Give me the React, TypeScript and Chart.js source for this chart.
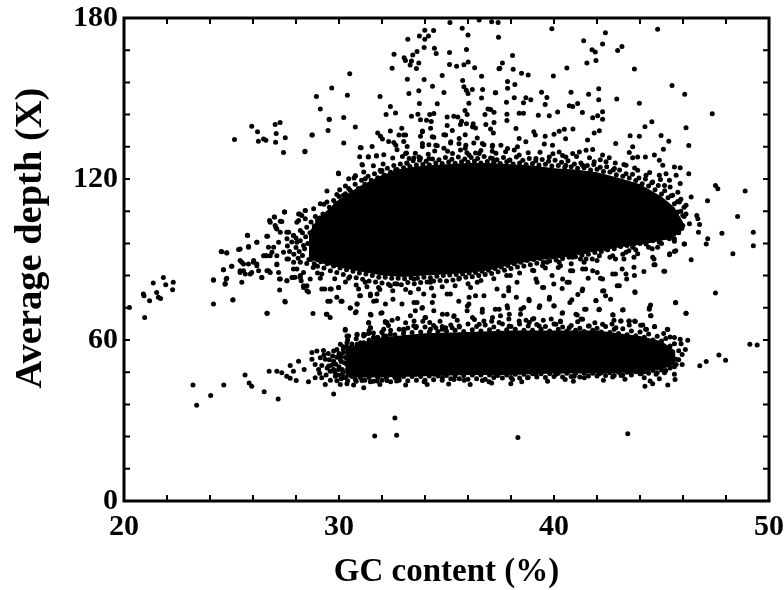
import React, { useEffect, useRef } from "react";
import { Chart, registerables } from "chart.js";

Chart.register(...registerables);

type P = [number, number];

const xTickValues = [20, 30, 40, 50];
const yTickValues = [0, 60, 120, 180];
const xTitle = "GC content (%)";
const yTitle = "Average depth (X)";

// Solid, saturated part of the two point clouds: upper and lower edge
const mainCoreGc = [28.6, 29, 30, 31, 32, 33, 34, 35, 36, 37, 38, 39, 40, 41, 42, 43, 44, 45, 45.6, 46];
const mainCoreTop = [100, 105, 112.5, 117.5, 121.5, 124, 125, 125.5, 126, 126, 125.5, 125, 124, 123.5, 122.5, 120.5, 118, 113.5, 109.5, 104];
const mainCoreBottom = [90.5, 89, 87, 85.5, 84, 83.5, 84, 84.5, 85, 86, 88, 89.5, 90.5, 91.7, 93.2, 94.5, 95.5, 97, 98.5, 101];
const lowCoreGc = [30.3, 31, 32, 34, 36, 38, 40, 42, 44, 45, 45.65];
const lowCoreTop = [56.5, 59, 61, 62.5, 63, 63.5, 63.5, 63.5, 61.5, 59.5, 56];
const lowCoreBottom = [46, 46, 46, 46.5, 47, 47, 47.5, 47.5, 48, 49, 51];

const topCloud: P[] = [
  [35.16,178.3],[35.73,176.2],[36,173.7],[36.52,179.3],[37.1,178.6],[37.4,178.3],[37.42,172.8],[33.99,175.4],[34.4,175.3],[33.74,173.3],[34.16,173.3],[33.99,172.1],[33.2,172.1],[33.96,169],[34.44,168.7],[34.52,166.8],[35.14,167.1],[35.93,168.3],[33.63,167.5],[33.43,166.2],[32.56,166.5],[33.03,165.2],[33.09,164.2],[33.37,164],[33.71,163.2],[33.31,162.5],[33.6,161.2],[32.47,161.3],[35.14,162.7],[35.47,162],[35.81,162.6],[36.01,163.6],[36.31,161.5],[37.44,161.1],[30.5,159.2],[34.8,158.6],[33.96,157.1],[33.18,157.2],[35.75,156.7],[36.63,158.3],[29.66,153.9],[34.35,154.6],[33.71,152.9],[33.25,151.9],[34.88,152.2],[35.81,154.4],[35.92,153.1],[36.2,153.4],[36.68,153.4],[37.27,152.1],[36,151.9],[36.63,150.2],[28.95,150.7],[30.39,151.2],[31.91,150.7],[33.74,148.1],[34.57,148],[36.04,148.2],[32.39,147],[29.13,146.1],[36.93,146.1],[37.05,145.9],[35.86,145.5],[32.63,144.6],[32.19,144],[33.67,144.1],[33.37,143.4],[34.41,144.4],[34.22,144],[35.03,143.1],[35.34,143.4],[35.53,143.1],[35.96,144],[36.79,144],[37.21,144.9],[29.54,142.3],[30.22,142.9],[33.79,142.1],[34.07,141.9],[34.29,141.4],[35.7,141.5],[35.93,140.6],[36.24,140.6],[35.03,139.9],[35.65,140.3],[36.83,140.3],[37.21,141.1],[30.76,139.4],[29.49,138.1],[32.92,138.9],[34.26,138.9],[32.39,137.9],[33.88,137.9],[35.27,138.1],[36.35,139],[37.05,138.6],[28.76,136.4],[31.8,137.1],[31.93,135.9],[32.02,134.9],[33.01,136.4],[33.79,135.9],[34.41,135.6],[34.88,136.5],[35.87,136.5],[36.43,135.3],[37.18,137.1],[32.31,134],[32.55,133.6],[33.01,134],[30.22,133.4],[35.19,133.4],[35.58,133.1],[36.27,133.4],[36.74,132.8],[31.54,132.1],[31.03,131.6],[33.17,132.1],[33.88,132.1],[34.18,132.8],[34.57,132.4],[34.88,131.5],[37.13,132.1],[28.42,130.3],[32.7,130.9],[35.87,131.5],[30.96,128.3],[31.37,128.3],[31.74,128.7],[32.08,129],[33.14,129.7],[36.35,129.7],[37.13,130.3],[33.48,127.8],[33.79,127.8],[31.09,125.2],[33.17,125.9],[32,123.2],[29.97,122.2],[32.63,123.4],[32.86,122.8],[30.76,121.2],
  [39.9,176],[44.82,175.8],[42.39,174.5],[41.38,171.5],[42.26,170.3],[43.16,169.4],[42.96,167.9],[41.77,168.2],[41.92,167.3],[41.95,164.2],[41.53,163.2],[43.74,161],[40.6,161.4],[39.97,158.4],[45.49,154.8],[46.08,151.6],[47.36,144.3],[46.14,139.1],[46.27,132.5],[44.55,141.3],[44.23,139.5],[43.97,148.2],[42.92,149.8],[42.08,153.6],[41.61,151.6],[42.08,149.5],[40.79,152.3],[38.07,166],[37.6,163.2],[37.48,161.3],[38.1,160.9],[38.49,159.4],[38.8,158.8],[37.84,156.3],[38.18,155.2],[37.84,153.8],[37.29,152.1],[39.42,152.3],[39.67,150.4],[38.15,150.3],[38.69,150.3],[38.92,149.5],[37.79,148.6],[38.58,148.4],[39.59,147.8],[40.71,147.3],[41.1,148.1],[40.87,147],[37.81,144.1],[37.81,141.8],[38.38,144.5],[38.58,144.5],[39.27,143.8],[39.78,143.6],[40.17,145],[41.32,144.8],[42.26,145.1],[41.8,142.8],[42.03,143.6],[42.26,142.3],[38.23,138.8],[39.06,137.6],[39.13,136.4],[40.48,138.5],[40.88,138.6],[40.24,137.8],[40,136.7],[42.11,138],[41.87,137.1],[39.59,135.9],[40.54,135],[41.56,134.5],[43.54,136.1],[43.97,135.9],[44.98,136.2],[45.34,134.1],[42.87,133.2],[38.38,135.1],[38.69,133.9],[37.84,131.4],[38.3,132],[43.66,132],[45.09,131.1],[43.5,129.9],[44.67,128.9],[39.55,133],[39.93,132.6],[40.24,130.1],[41.8,131],[41.49,130.7],[41.18,130.1],[40.87,129.5],[40.55,128.2],[42.26,128.9],[42.57,127.9],[43.89,128.2],[44.25,128.2],[43.66,127.9],[44.9,127],[45.06,125.1],[45.6,124.5],[45.87,124.2],[46.27,122],[44.9,121.4],[45.21,122],[45.37,119.5],[45.87,118.3],[47.51,117.6],[47.62,116.4],[48.89,115.5],[45.76,115.1],[46.38,113.3],[47.14,111.9],[46.14,110.2],[45.83,111.4],[48.54,106],[46.64,106.4],[46.69,105.2],[46.77,103],[46.3,103.3],[45.99,106.4],[45.83,101.4],[46.72,100.2],[47.81,99.8],[49.27,100.2],[47.15,97.7],[47.08,95.8],[46.07,95.8],[49.27,95.1],[48.32,92.1],[45.6,93],[45.37,91.8],[44.82,94.6],[44.59,90.8],[46.38,89.9],[44.7,88],[45.15,85.6],[43.77,77.7],[47.51,77.5],
  [33.26,127.6],[33.72,128.2],[34.19,127.6],[35.28,129.5],[36.05,128.9],[36.52,129.5],[37.14,127.6],[37.92,127],[38.38,128.9],[39.16,127.6],[39.78,128.2],[37.14,132.6],[37.53,132.6],[33.1,136.4],[33.88,137.6],[34.34,135.7],[34.96,136.4],[35.59,135.1],[36.21,139.5],[33.88,133.2],[34.5,132.6],[35.2,133.9],[35.9,132.6],[36.67,133.2],[32.64,132.6],[33.1,129.5],[32.79,136.4],
  [45.52,113.9],[45.76,107.7],[45.99,102.7],[45.6,104.5],[46.14,107],[45.68,121.4],[45.14,117.6],[44.59,118.9],[44.28,121.4],[43.89,123.3],[43.35,125.1],[42.81,123.9],[42.42,126.4],[41.87,126.4],[41.33,125.1],[40.55,125.1],
];

const gapCloud: P[] = [
  [45.11,85.6],[45.66,74],[46.14,70],[43.76,78],[44.18,85.5],[44.49,73],[44.43,71.5],[44.49,69],[43.22,71.3],[42.75,69.3],[43.1,67.1],[43.48,67.1],[43.75,67.1],[44.68,65],[45.27,64],[44.03,65.5],[44.26,64],[42.79,67.4],[42.09,71.3],[41.95,74.7],[41.42,71.5],[41.08,69.3],[41.26,67.8],[40.38,70],[40.83,75],[40.74,74],[41.11,77],[41.31,78.4],[42.32,78.4],[42.4,76.5],[42.63,75.2],[42.94,80.2],[40.38,79.2],[39.79,75.9],[39.99,72.8],[39.34,72.8],[39.87,67.8],[40.3,67.1],[39.06,68],[38.59,72.1],[38.44,69.6],[38.83,75.2],[38.25,75.9],[37.66,76.5],[37.35,79],[37.89,78.4],[37.82,72.8],[37.27,71.5],[37.51,69],[37.89,79.6],[39.52,79.6],[39.99,80.9],[40.61,81.5],[41.59,83],[42.16,83],[42.86,84.6],[43.38,82.7],[43.72,87.1],[44.65,90.2],[44.65,88],[45.38,92.1],[44.57,94],[45.66,93.3],[46.05,95.8],[43.72,90.8],[43.48,93.3],[43.25,90.2],[42.86,90.2],[43.17,86.5],[40.77,85.8],[41.47,86.5],[42.01,85.2],[41.78,90.2],[41.23,90.2],[39.21,81.5],[38.28,81.5],[37.97,84],[39.91,84],[39.06,85.8],[39.68,89],[40.3,87.7],
  [28.79,69.9],[29.41,69.6],[29.59,68.4],[30.29,64],[29.48,74.4],[29.9,75.9],[30.14,74.4],[29.33,79],[29.64,79],[29.98,79.6],[30.53,71.9],[30.8,70.5],[30.96,76.5],[30.84,73.4],[31.49,69.3],[31.38,66.3],[31.46,64.6],[31.95,70],[32.16,66.5],[32.47,67.4],[32.73,68],[32.16,73.4],[32.51,75.2],[32.93,73.4],[31.61,74.4],[31.77,77.1],[31.46,77.1],[32,62.8],[33.32,69],[33.55,70.9],[33.86,71.8],[34,68.4],[34.22,66.5],[34.41,70.9],[35.03,69.6],[35.34,68.8],[35.57,74.4],[35.96,70.9],[36.66,70.3],[36.74,67.1],[36.04,73.4],[36.35,76.5],[33.63,74],[34.41,76.5],[35.03,77.1],[33.32,77.7],[33.94,77.1],[32.7,80.9],[32.39,80.2],[31.84,79.6],[30.91,79],[28.51,78.4],[28.35,79.6],[27.96,83.4],[28.66,82.7],[28.24,82.1],[29.13,83],[30.45,83],[31.22,81.5],[34.25,81.5],[35.18,77.1],[36.12,79.6],[36.74,76.5],[35.57,82.7],[36.43,81.5],[33.48,82.7],[34.8,64],[34.25,64],[35.26,64.6],[33.48,65.3],[33.01,64],[32.39,62.1],[30.84,62.1],[30.37,61.5],[31.61,60.9],[31.15,62.1],
  [39.47,87.7],[40.24,89],[40.87,90.8],[41.49,90.2],[42.11,91.4],[42.73,91.4],[43.35,92.7],[43.89,92.1],[41.8,93.9],[42.42,93.9],[43.04,95.2],[43.66,94.6],[44.28,95.8],[44.9,96.4],[45.37,97.7],[45.76,100.2],[45.6,97.7],[42.73,84.6],[43.35,84.6],[43.74,84],[41.8,85.8],[42.26,82.7],[41.33,86.5],[40.87,85.8],[40.4,82.7],[39.16,82.7],[39.47,79.6],[41.33,79],[42.26,78.3],[43.04,80.2],[40.71,81.5],
];

const leftTail: P[] = [
  [25.14,134.7],[25.94,139.7],[26.21,137.6],[26.25,134.1],[26.49,134.9],[26.6,134.4],[27.03,140.3],[27.26,141.1],[27.08,137],[27.5,135.4],[27.05,133.7],[27.42,129.9],[28.41,130.2],[28.74,136.4],[29.55,142.2],[30.99,131.7],[31.36,128.2],[31.74,128.6],[31.07,125.4],[29.98,122],[30.45,120.1],[30.76,121.1],[29.44,115.5],[30.03,116],[30.52,115.8],[31.22,120.1],[31.92,123.3],[31.61,118.9],[31,116.4],[30.21,113.9],[29.75,112],[29.44,111.4],[29.13,110.8],[28.82,108.9],[28.43,108.3],[28.12,107],[27.46,107.7],[27,105.8],[26.77,104.5],[27.34,104.2],[27.03,102.7],[28.12,104.5],[28.27,106.4],[27.11,101.4],[26.64,98.7],[25.74,99],[27.57,100.2],[27.88,98.9],[26.18,96.4],[25.79,94.6],[25.4,93.9],[24.55,92.9],[24.78,92.4],[26.64,91.4],[26.88,92.7],[26.49,91.4],[27.11,91.4],[27.42,92.7],[26.02,89],[25.79,88.3],[26.18,87.7],[25.48,89],[25,87.5],[24.62,86.2],[25.4,85.2],[25.56,85.8],[25.94,85.2],[26.41,83.3],[26.72,85.8],[27.11,88.3],[27.65,90.2],[27.88,86.5],[28.2,89],[24.16,82.3],[24.75,82.7],[24.7,80.8],[25.48,81.5],[27.23,82.7],[27.57,82.1],[27.88,83.3],[28.2,84],[28.35,80.2],[28.58,77.9],[29.2,79],[29.59,79],[29.98,79.6],
  [21.83,83.3],[21.36,81.2],[21.94,80.6],[22.29,81.5],[22.26,78.7],[21.52,77.7],[20.9,77.1],[20.93,76.5],[21.19,74.6],[21.6,75.9],[21.7,75.5],[20.96,68.4],[20.25,72.1],[24.16,73.4],[25.07,75],[26.66,70],[27.48,74.4],[29.44,69.6],[29.59,74.4],[30.09,74.4],
  [26.57,91.4],[26.8,91.4],[26.72,94.6],[26.96,94.6],[27.19,96.4],[27.58,97.7],[27.89,98.9],[27.27,100.2],[27.66,100.2],[28.2,100.8],[28.04,96.4],[28.35,95.2],[27.58,90.2],[27.89,89],[28.04,86.5],[28.35,85.2],[28.2,83.3],[28.51,80.2],[27.81,83.3],[27.58,82.1],[27.27,82.7],[27.19,85.2],[27.11,88],[27.5,74.2],[27.24,78.6],[26.65,70],[25.06,74.9],[24.71,81.1],[24.78,83],[24.16,82.5],[24.63,86.2],[25.02,87.5],[24.52,93],[24.78,92.5],[25.33,93.7],[25.79,94.8],[26.18,96.4],[25.75,98.9],[26.68,98.7],[25.4,89.6],[25.56,88.3],[26.03,89.6],[26.18,88.3],[25.4,85.8],[25.64,84.6],[25.87,84.6],[26.26,85.8],[26.41,83.3],[26.65,85.8],[26.8,85.2],[26.8,103.9],[26.99,105.8],[27.07,101.8],[27.27,104.3],[27.47,107.7],[28.04,103.9],[28.17,107],[28.43,108.3],[28.43,105.2],
  [27.6,95],[27.7,93],[27.8,96.5],[27.9,92],[28,94.5],[28,98],[28.1,90.5],[28.15,93],[28.2,97],[28.3,100],[28.3,91.5],[28.4,94],[28.45,98.5],[28.5,88.5],[28.5,102],[28.55,96],[28.6,90],[28.65,100],[28.7,104],[28.8,87],[28.8,94],[28.85,102.5],[28.9,106],[29,85],[29,104.5],
];

const mainTopEdge: P[] = [
  [29.1,105.5],[29.25,107],[29.4,106],[29.55,109.5],[29.7,108.5],[29.85,111],[30,113.5],[30.15,112],[30.3,114.5],[30.45,116.5],[30.6,115],[30.75,118],[30.9,116.5],[31.05,119.5],[31.2,118],[31.35,121],[31.5,119.5],[31.65,122],[31.8,120.5],[31.95,122.8],[32.1,121.5],[32.25,124],[32.4,122.5],[32.55,125],[32.7,123.5],[32.85,125.6],[33,124.2],[33.15,126],[33.3,124.7],[33.45,126.8],[33.6,125.2],[33.75,127],[33.9,125.4],[34.05,126.6],[34.2,125.3],[34.35,127.5],[34.5,126],[34.65,127.2],[34.8,125.8],[34.95,128],[35.1,126.3],[35.25,127.4],[35.4,125.9],[35.55,128.2],[35.7,126.4],[35.85,127.5],[36,126.2],[36.15,128],[36.3,126.6],[36.45,127.6],[36.6,126],[36.75,128.4],[36.9,126.5],[37.05,127.8],[37.2,126.2],[37.35,127.2],[37.5,125.8],[37.65,128],[37.8,126.4],[37.95,127.1],[38.1,125.6],[38.25,128.2],[38.4,126],[38.55,127],[38.7,125.4],[38.85,127.6],[39,125.8],[39.15,126.8],[39.3,125.2],[39.45,127.3],[39.6,125.5],[39.75,126.6],[39.9,124.8],[40.05,127],[40.2,125],[40.35,126.2],[40.5,124.4],[40.65,126.8],[40.8,124.6],[40.95,125.6],[41.1,124],[41.25,126],[41.4,124.2],[41.55,125],[41.7,123.4],[41.85,125.4],[42,123.6],[42.15,124.4],[42.3,122.8],[42.45,124.6],[42.6,122.6],[42.75,123.4],[42.9,121.6],[43.05,123.4],[43.2,121],[43.35,122],[43.5,120.4],[43.65,121.8],[43.8,119.4],[43.95,120.4],[44.1,118.2],[44.25,120],[44.4,117.4],[44.55,118.6],[44.7,116],[44.85,117.6],[45,114.4],[45.15,115.6],[45.3,113],[45.45,113.8],[45.6,110.8],[45.75,111.6],[45.9,108],[46.05,106],
  [29.3,110.6],[29.9,114.2],[30.3,117.4],[30.7,120.4],[31.15,122.6],[31.6,124.9],[32.05,125.6],[32.5,127.8],[32.95,128.4],[33.55,129.6],[34.15,129.2],[34.45,130.4],[35.05,130.3],[35.65,130.8],[35.95,129.8],[36.6,130.6],[37.3,129.6],[37.75,130.2],[38.15,130.8],[38.8,129.8],[39.35,130],[39.95,129.4],[40.4,128.8],[41.05,128.4],[41.65,127.9],[42.15,127.2],[42.85,126],[43.25,125.4],[43.75,124.1],[44.45,122.4],[44.95,119.8],[45.4,117],[45.9,112.5],[46.05,109.5],
];

const mainBottomEdge: P[] = [
  [28.7,90],[28.85,88.4],[29,87.5],[29.15,89.2],[29.3,86.8],[29.45,88.4],[29.6,85.8],[29.75,87.6],[29.9,85.2],[30.05,86.8],[30.2,84.4],[30.35,86.2],[30.5,83.6],[30.65,85.6],[30.8,83.2],[30.95,85],[31.1,82.6],[31.25,84.6],[31.4,82],[31.55,84],[31.7,81.6],[31.85,83.4],[32,81.2],[32.15,83.4],[32.3,80.8],[32.45,83],[32.6,81],[32.75,83],[32.9,80.6],[33.05,82.8],[33.2,81.4],[33.35,83.2],[33.5,81],[33.65,83],[33.8,81.4],[33.95,83.4],[34.1,81.6],[34.25,83.2],[34.4,82],[34.55,83.8],[34.7,82.2],[34.85,84],[35,82],[35.15,84.2],[35.3,82.4],[35.45,84.4],[35.6,83],[35.75,84.6],[35.9,83.4],[36.05,85],[36.2,83.6],[36.35,85.2],[36.5,84],[36.65,85.6],[36.8,84.4],[36.95,86],[37.1,84.8],[37.25,86.6],[37.4,85.4],[37.55,87.2],[37.7,86],[37.85,87.8],[38,86.6],[38.15,88.4],[38.3,87.2],[38.45,89],[38.6,87.6],[38.75,89.6],[38.9,88],[39.05,90],[39.2,88.6],[39.35,90.4],[39.5,89],[39.65,90.8],[39.8,89.4],[39.95,91],[40.1,89.8],[40.25,91.4],[40.4,90.4],[40.55,91.8],[40.7,90.8],[40.85,92.2],[41,91],[41.15,92.6],[41.3,91.6],[41.45,93],[41.6,92],[41.75,93.6],[41.9,92.6],[42.05,94],[42.2,93],[42.35,94.6],[42.5,93.6],[42.65,95],[42.8,94],[42.95,95.6],[43.1,94.8],[43.25,96],[43.4,95.2],[43.55,96.6],[43.7,95.6],[43.85,97],[44,96],[44.15,97.4],[44.3,96.6],[44.45,98],[44.6,97],[44.75,98.4],[44.9,97.6],[45.05,99],[45.2,98.2],[45.35,99.6],[45.5,99],[45.65,100.6],[45.8,100],[45.95,101.6],
  [29.2,84.6],[29.8,82.8],[30.3,81.6],[30.8,80.5],[31.3,79.8],[31.9,78.8],[32.5,78.4],[33.1,78.8],[33.7,79],[34.3,79.4],[34.8,79.8],[35.4,80.2],[36,81],[36.6,82.2],[37.2,82.8],[37.8,84],[38.4,85],[39,86],[39.6,86.8],[40.2,87],[40.8,88.4],[41.4,89],[42,89.6],[42.6,90.8],[43.2,92],[43.8,93.6],[44.4,94.6],[45,96],[45.6,96.8],
];

const lowBand: P[] = [
  [23.21,43.2],[24.64,43.2],[24.03,39.3],[23.38,35.7],[25.63,47],[25.82,44],[25.94,42.8],[26.52,40.7],[27.17,38],[26.75,48.4],[27.11,48.4],[27.34,47.8],[27.57,46.5],[27.73,45.7],[28.01,44.9],[27.73,50.5],[27.88,48.4],[28.12,52.1],[28.38,49],[28.58,44.4],[29.75,39.9],[31.66,24.2],[32.6,30.9],[32.68,24.5],[38.32,23.7],[43.43,25.1],
  [28.74,55.3],[28.97,55.9],[29.28,56.1],[28.74,52.8],[28.89,50.9],[29.05,49],[28.89,45.9],[29.2,45.9],[29.36,43.4],[29.13,53.4],[29.36,52.8],[29.52,50.3],[29.75,55.9],[29.9,56.5],[30.06,58.4],[30.37,59],[29.75,52.1],[29.98,49],[29.83,46.5],[30.06,43.4],[30.37,43.7],[30.68,43.2],[30.29,63.6],[30.45,61.5],[30.84,61.9],[31.15,61.5],[31.38,62.4],[31.15,42.2],[31.46,44.4],[31.77,44.7],[32.23,44.9],[32.23,66.5],[31.38,66.5],[31.46,64.6],[32.08,64],[31.61,60.9],[32.08,61.5],[30.21,55.3],[30.37,50.9],[30.06,52.8],[29.59,48.4],[30.14,47.2],[30.52,47.2],[30.76,45.3],[31.07,44.9],[30.52,57.1],[30.84,58.4],[31.15,59],[29.75,49],[30.76,70.2],[30.52,71.9],[30.84,73.4],[31,76.5],[31.46,76.5],[31.74,74.6],[31.46,69.6],[32,70.2],[32.15,66.9],
  [45.65,73.9],[46.14,70],[44.44,72.1],[44.51,69],[43.19,71.2],[41.95,74.6],[42.11,71.5],[41.49,71.5],[41.02,69.6],[41.33,67.7],[42.73,69.4],[43.12,67.1],[43.5,67.1],[43.78,66.9],[44.13,65.6],[44.67,64.9],[45.29,63.9],[45.4,61.1],[45.6,60.9],[45.87,60.3],[46.22,59.9],[45.91,58.6],[46.11,56.5],[45.96,54.6],[45.96,50.9],[45.68,52.8],[45.68,50.9],[45.45,51.5],[45.6,47.2],[45.63,45.3],[45.29,43.2],[44.59,43.7],[44.23,42.8],[44.2,45.9],[44.47,44.7],[46.78,50.4],[47.08,52],[47.67,54.4],[47.98,52.5],[49.11,58.4],[49.45,58.1],
  [32.68,44.7],[33.96,44.4],[34.81,45.9],[35.35,45.3],[35.82,45],[36.67,44.9],[36.98,44.4],[37.37,46.8],[37.99,43.7],[38.07,45.3],[38.77,45.9],[39.16,47.2],[40.09,47.2],[40.52,45.3],[40.94,46.5],[41.41,45.9],[42.11,47.4],[42.73,46.2],[43.12,46.8],[43.58,47.8],[44.05,47.4],[44.75,47.2],[45.14,47.8],[32.79,45.9],[33.57,47.2],[34.42,47.2],[36.21,47.2],
  [33.57,64.6],[34.5,64.6],[35.59,65.2],[36.52,65.9],[37.45,66.5],[38.38,67.1],[39.31,65.2],[40.09,65.9],[40.71,64.6],[41.64,65.2],[42.26,65.9],[42.88,64.6],[33.02,63.4],[34.96,64.6],[37.92,65.2],[38.85,66.5],[34.03,68.4],[34.81,69.6],[35.35,69],[33.49,67.1],[37.45,71.5],[37.84,71.9],[36.67,71.5],[38.46,71.5],[38.85,74.6],[39.31,72.1],[39.78,75.2],[40.01,72.7],[40.4,70.2],[35.97,72.7],[36.05,75.9],[34.34,74],[33.49,74],[33.88,72.1],[37.14,68.4],[36.21,68.4],[37.92,69.6],[39,67.7],
];

const lowTopEdge: P[] = [
  [30.2,57.5],[30.4,60],[30.6,58.5],[30.8,60.5],[31,59],[31.2,62],[31.4,60],[31.6,62.6],[31.8,61],[32,63],[32.2,61.5],[32.4,63.6],[32.6,62],[32.8,64],[33,62.4],[33.2,64.5],[33.4,62.8],[33.6,65],[33.8,63],[34,64.8],[34.2,63],[34.4,65.4],[34.6,63.2],[34.8,65],[35,63.4],[35.2,65.6],[35.4,63.6],[35.6,64.8],[35.8,63.2],[36,66],[36.2,63.8],[36.4,65],[36.6,63.4],[36.8,65.6],[37,63.8],[37.2,64.8],[37.4,63.2],[37.6,66],[37.8,63.8],[38,65],[38.2,64],[38.4,66],[38.6,63.6],[38.8,65.2],[39,63.6],[39.2,65.8],[39.4,64],[39.6,65],[39.8,63.4],[40,66],[40.2,64],[40.4,64.8],[40.6,63.4],[40.8,65.4],[41,63.6],[41.2,64.4],[41.4,63.2],[41.6,65.2],[41.8,63.6],[42,64.4],[42.2,63],[42.4,65],[42.6,62.8],[42.8,64],[43,62.4],[43.2,64.2],[43.4,62],[43.6,63.4],[43.8,61.6],[44,63],[44.2,61],[44.4,62.2],[44.6,60],[44.8,61.4],[45,59.6],[45.2,60.6],[45.4,57.8],[45.6,58.6],[45.8,56],[45.8,52.6],
  [31.4,63.5],[32.3,65.4],[33.1,66.4],[33.9,67],[34.7,67],[35.5,67.4],[36.3,67.6],[37.1,67],[37.9,67.8],[38.7,67.4],[39.5,67.4],[40.3,66.8],[41.1,66.8],[41.9,66.4],[42.7,66],[43.5,65.6],[44.3,64],[45.1,62.4],
];

const lowBottomEdge: P[] = [
  [30.2,46],[30.4,44.8],[30.6,46.4],[30.8,44.6],[31,46],[31.2,45],[31.4,46],[31.6,44.6],[31.8,46],[32,45],[32.2,46],[32.4,44.4],[32.6,46],[32.8,45],[33,46.4],[33.2,44.8],[33.4,46.4],[33.6,45],[33.8,46.4],[34,45],[34.2,46.6],[34.4,45.2],[34.6,46.6],[34.8,45],[35,46.8],[35.2,45.6],[35.4,46.6],[35.6,45.6],[35.8,46.8],[36,45.4],[36.2,47],[36.4,45.6],[36.6,47],[36.8,45.4],[37,47],[37.2,46],[37.4,47],[37.6,45.8],[37.8,47],[38,46],[38.2,47.2],[38.4,45.8],[38.6,47.2],[38.8,46],[39,47.4],[39.2,46.2],[39.4,47.4],[39.6,46],[39.8,47.4],[40,46.4],[40.2,47.6],[40.4,46.2],[40.6,47.6],[40.8,46.4],[41,47.6],[41.2,46.2],[41.4,47.6],[41.6,46.6],[41.8,47.6],[42,46.6],[42.2,47.8],[42.4,46.8],[42.6,47.8],[42.8,46.8],[43,48],[43.2,47],[43.4,48],[43.6,47],[43.8,48.2],[44,47.4],[44.2,48.2],[44.4,47.6],[44.6,48.6],[44.8,47.8],[45,48.8],[45.2,48.6],[45.4,49.6],[45.6,50],
  [31.9,43.4],[33.1,43.2],[34.1,43.4],[35.1,43.6],[36.1,43.4],[37.1,44],[38.5,44.4],[39.7,44.6],[40.9,44.6],[42.3,45],[43.3,45.4],[44.9,45.6],
];

const lowLeftFill: P[] = [
  [29.1,47.6],[29.2,50.5],[29.3,54.4],[29.4,47],[29.45,49.6],[29.5,55],[29.55,52.6],[29.6,45],[29.65,50.6],[29.7,54],[29.8,48],[29.85,51],[29.9,53.6],[29.9,44.8],[29.95,47],[30,55],[30,50],[30.1,45.6],[30.1,52],[30.1,54],[30.15,49],[30.2,56.5],[30.2,48],[30.25,51.5],[30.3,53.5],[30.3,46],[30.35,57.5],[30.4,49],[30.45,55],[30.5,52.5],
];

const toPts = (xs: number[], ys: number[]) => xs.map((x, i) => ({ x, y: ys[i] }));
const toObj = (list: P[]) => list.map(([x, y]) => ({ x, y }));

const frame = {
  id: "frame",
  afterDatasetsDraw(chart: any) {
    const { ctx, chartArea: a, scales } = chart;
    ctx.save();
    ctx.strokeStyle = "#000";
    ctx.lineWidth = 2;
    ctx.beginPath();
    for (const t of scales.x.ticks) {
      const p = scales.x.getPixelForValue(t.value);
      ctx.moveTo(p, a.bottom); ctx.lineTo(p, a.bottom - 6);
      ctx.moveTo(p, a.top); ctx.lineTo(p, a.top + 6);
    }
    for (const t of scales.y.ticks) {
      const p = scales.y.getPixelForValue(t.value);
      ctx.moveTo(a.left, p); ctx.lineTo(a.left + 6, p);
      ctx.moveTo(a.right, p); ctx.lineTo(a.right - 6, p);
    }
    ctx.stroke();
    ctx.lineWidth = 3;
    ctx.strokeRect(a.left, a.top, a.right - a.left, a.bottom - a.top);
    ctx.fillStyle = "#000";
    ctx.font = "bold 38.5px 'Liberation Serif'";
    ctx.textAlign = "center";
    ctx.textBaseline = "middle";
    ctx.translate(31, 238);
    ctx.rotate(-Math.PI / 2);
    ctx.fillText(yTitle, 0, 0);
    ctx.restore();
  },
};

export default function App() {
  const ref = useRef<HTMLCanvasElement>(null);
  useEffect(() => {
    const dots = { type: "scatter" as const, pointRadius: 2.5, pointBackgroundColor: "#000", pointBorderWidth: 0, showLine: false };
    const band = { type: "scatter" as const, showLine: true, pointRadius: 0, borderWidth: 0, borderColor: "#000", backgroundColor: "#000", tension: 0 };
    const chart = new Chart(ref.current!, {
      type: "scatter",
      data: {
        datasets: [
          { ...band, label: "main top", data: toPts(mainCoreGc, mainCoreTop), fill: "+1" },
          { ...band, label: "main bottom", data: toPts(mainCoreGc, mainCoreBottom), fill: false },
          { ...band, label: "low top", data: toPts(lowCoreGc, lowCoreTop), fill: "+1" },
          { ...band, label: "low bottom", data: toPts(lowCoreGc, lowCoreBottom), fill: false },
          { ...dots, label: "top", data: toObj(topCloud) },
          { ...dots, label: "gap", data: toObj(gapCloud) },
          { ...dots, label: "left", data: toObj(leftTail) },
          { ...dots, label: "main top edge", data: toObj(mainTopEdge) },
          { ...dots, label: "main bottom edge", data: toObj(mainBottomEdge) },
          { ...dots, label: "low", data: toObj(lowBand) },
          { ...dots, label: "low top edge", data: toObj(lowTopEdge) },
          { ...dots, label: "low bottom edge", data: toObj(lowBottomEdge) },
          { ...dots, label: "low left", data: toObj(lowLeftFill) },
        ] as any,
      },
      plugins: [frame],
      options: {
        animation: false,
        responsive: false,
        layout: { padding: { top: 18, right: 15, left: 0, bottom: 0 } },
        plugins: { legend: { display: false }, tooltip: { enabled: false } },
        scales: {
          x: {
            type: "linear", min: 20, max: 50,
            grid: { display: false, drawTicks: false }, border: { display: false },
            afterFit: (s: any) => { s.height = 89; s.paddingLeft = 0; s.paddingRight = 0; },
            ticks: {
              stepSize: 2, autoSkip: false, maxRotation: 0, padding: 8, color: "#000",
              font: { family: "'Liberation Serif'", weight: "bold", size: 30 },
              callback: (v: any) => (xTickValues.includes(v) ? String(v) : ""),
            },
            title: { display: true, text: xTitle, color: "#000", padding: { top: 0, bottom: -2 }, font: { family: "'Liberation Serif'", weight: "bold", size: 33 } },
          },
          y: {
            type: "linear", min: 0, max: 180,
            grid: { display: false, drawTicks: false }, border: { display: false },
            afterFit: (s: any) => { s.width = 124; s.paddingTop = 0; s.paddingBottom = 0; },
            ticks: {
              stepSize: 12, autoSkip: false, padding: 6, color: "#000",
              font: { family: "'Liberation Serif'", weight: "bold", size: 30 },
              callback: (v: any) => (yTickValues.includes(v) ? String(v) : ""),
            },
          },
        },
      } as any,
    });
    return () => chart.destroy();
  }, []);
  return <canvas ref={ref} width={784} height={590} style={{ position: "absolute", left: 0, top: 0, display: "block" }} />;
}
